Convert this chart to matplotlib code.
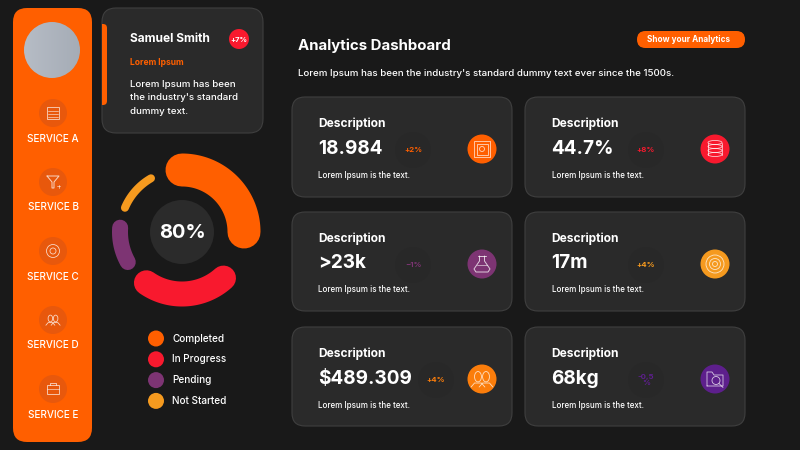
import numpy as np
from matplotlib import pyplot as plt
from matplotlib.colors import LinearSegmentedColormap
from matplotlib.patches import Circle, FancyBboxPatch, Rectangle, Ellipse

plt.rcParams['font.family'] = ['Inter', 'DejaVu Sans']

# colours
BG = "#191919"
CARD = "#2a2a2a"
EDGE = "#3f3f3f"
ORANGE = "#ff5f00"
RED = "#f8192e"
PURPLE = "#7d3473"
AMBER = "#f59a1f"
TANGERINE = "#fb7d0b"
VIOLET = "#5d1f8c"

# donut
ring_labels = ["Completed", "In Progress", "Pending", "Not Started"]
ring_colors = [ORANGE, RED, PURPLE, AMBER]
ring_start = [0, 235, 176, 120]
ring_span = [90, 77, 33, 37]
ring_width = [33, 25, 16, 8]
ring_center_text = "80%"

# sidebar
services = ["SERVICE A", "SERVICE B", "SERVICE C", "SERVICE D", "SERVICE E"]

# cards
card_titles = ["Description"] * 6
card_values = ["18.984", "44.7%", ">23k", "17m", "$489.309", "68kg"]
card_deltas = ["+2%", "+8%", "\u22121%", "+4%", "+4%", "-0,5\n%"]
card_colors = [ORANGE, RED, PURPLE, AMBER, TANGERINE, VIOLET]
card_icons = ["safe", "db", "flask", "target", "people", "folder"]

ICON_ALPHA = 0.75

fig = plt.figure(figsize=(8, 4.5), dpi=100, facecolor=BG)
ax = fig.add_axes([0, 0, 1, 1])


def px(size):
    '''pixel zu punkt'''
    return size * 0.72


def box(x0, y0, x1, y1, r, color, edge="none", lw=0, z=1):
    p = FancyBboxPatch((x0 + r, y0 + r), x1 - x0 - 2 * r, y1 - y0 - 2 * r,
                       boxstyle="round,pad={},rounding_size={}".format(r, r),
                       fc=color, ec=edge, lw=lw, zorder=z)
    ax.add_patch(p)
    return p


def label(x, y, s, size, weight="normal", color="white", ha="left", va="center", z=6, **kw):
    return ax.text(x, y, s, fontsize=px(size), fontweight=weight, color=color,
                   ha=ha, va=va, zorder=z, **kw)


def stroke(xs, ys, color="white", lw=0.8):
    ax.plot(xs, ys, color=color, lw=lw, alpha=ICON_ALPHA, zorder=6, solid_capstyle="round")


def outline(patch):
    patch.set(fill=False, ec="white", lw=0.6, alpha=ICON_ALPHA, zorder=6)
    ax.add_patch(patch)


def draw_icon(kind, x, y):
    '''kleine Linien-Icons'''
    if kind == "calendar":
        outline(Rectangle((x - 6, y - 6), 12, 12))
        for dy in (-2, 1, 4):
            stroke([x - 5, x + 5], [y + dy, y + dy], lw=0.5)
    elif kind == "funnel":
        stroke([x - 6, x + 6, x + 1, x + 1, x - 1, x - 1, x - 6],
               [y - 6, y - 6, y, y + 6, y + 6, y, y - 6], lw=0.7)
        stroke([x + 4, x + 7], [y + 4, y + 4], lw=0.5)
        stroke([x + 5.5, x + 5.5], [y + 2.5, y + 5.5], lw=0.5)
    elif kind == "gear":
        outline(Circle((x, y), 6.5))
        outline(Circle((x, y), 3))
    elif kind == "people" or kind == "people_small":
        k = 1.15 if kind == "people" else 0.75
        for d in (-3.5, 3.5):
            outline(Ellipse((x + d * k, y - 2 * k), 6 * k, 9 * k))
            stroke([x + (d - 6) * k, x + (d - 3) * k, x + (d + 3) * k, x + (d + 6) * k],
                   [y + 7 * k, y + 3.5 * k, y + 3.5 * k, y + 7 * k], lw=0.6)
    elif kind == "case":
        outline(Rectangle((x - 6, y - 4), 12, 9))
        stroke([x - 3, x - 3, x + 3, x + 3], [y - 4, y - 6, y - 6, y - 4], lw=0.6)
        stroke([x - 6, x + 6], [y, y], lw=0.5)
    elif kind == "safe":
        outline(Rectangle((x - 8, y - 8), 16, 16))
        outline(Rectangle((x - 5.5, y - 5.5), 11, 11))
        outline(Circle((x, y), 2.5))
    elif kind == "db":
        for dy in (-6.5, -2.5, 1.5, 5.5):
            outline(Ellipse((x, y + dy), 14, 4))
        stroke([x - 7, x - 7], [y - 6.5, y + 5.5], lw=0.6)
        stroke([x + 7, x + 7], [y - 6.5, y + 5.5], lw=0.6)
    elif kind == "flask":
        stroke([x - 2.5, x - 2.5, x - 8, x - 6, x + 6, x + 8, x + 2.5, x + 2.5],
               [y - 8, y - 3, y + 5, y + 8, y + 8, y + 5, y - 3, y - 8], lw=0.7)
        stroke([x - 4, x + 4], [y - 8.5, y - 8.5], lw=0.7)
        stroke([x - 5, x + 5], [y + 1, y + 1], lw=0.5)
    elif kind == "target":
        for r in (9, 5.5, 2.5):
            outline(Circle((x, y), r))
    elif kind == "folder":
        stroke([x - 8, x - 8, x - 3, x - 1, x + 8, x + 8, x - 8],
               [y + 7, y - 7, y - 7, y - 4, y - 4, y + 7, y + 7], lw=0.6)
        outline(Circle((x + 1, y + 1.5), 4))
        stroke([x + 4, x + 8], [y + 4.5, y + 8.5], lw=0.6)


# linke Leiste
box(13, 8, 92, 442, 14, ORANGE, z=2)
avatar = ax.imshow(np.linspace(0, 1, 64).reshape(1, -1), extent=(24, 81, 78, 22),
                   cmap=LinearSegmentedColormap.from_list("av", ["#b6bcc5", "#a5acb6"]),
                   zorder=3, aspect="auto")
avatar.set_clip_path(Circle((52, 50), 28, transform=ax.transData))

side_icons = ["calendar", "funnel", "gear", "people_small", "case"]
for i, name in enumerate(services):
    y = 113 + i * 69
    ax.add_patch(Circle((53, y), 14, fc="#e8580c", ec="none", zorder=3))
    draw_icon(side_icons[i], 53, y)
    label(53, y + 25.5, name, 10, weight="medium", ha="center")

# Profilkarte
profile = box(102, 8, 263, 133, 14, CARD, edge=EDGE, lw=0.8, z=2)
tab = box(96, 24, 107, 105, 4, ORANGE, z=3)
tab.set_clip_path(profile)
label(130.5, 39.5, "Samuel Smith", 12, weight="bold")
ax.add_patch(Circle((239, 39), 10, fc=RED, ec="none", zorder=4))
label(239, 39.5, "+7%", 7.5, weight="bold", ha="center")
label(130.5, 62.5, "Lorem Ipsum", 8.5, weight="bold", color=ORANGE)
label(130.5, 84.5, "Lorem Ipsum has been", 9.7, weight="medium")
label(130.5, 98, "the industry's standard", 9.7, weight="medium")
label(130.5, 111.5, "dummy text.", 9.7, weight="medium")

# Donut
cx, cy, ring_r = 182, 232, 62
for start, span, width, color in zip(ring_start, ring_span, ring_width, ring_colors):
    ang = np.radians(np.linspace(start, start + span, 90))
    ax.plot(cx + ring_r * np.cos(ang), cy - ring_r * np.sin(ang), color=color,
            lw=px(width), solid_capstyle="round", zorder=3)
ax.add_patch(Circle((cx, cy), 32, fc="#2b2b2b", ec="none", zorder=4))
label(cx, cy + 0.5, ring_center_text, 20, weight="bold", ha="center")

# Legende
for i, (name, color) in enumerate(zip(ring_labels, ring_colors)):
    y = 338.5 + i * 20.8
    ax.add_patch(Circle((156, y), 8, fc=color, ec="none", zorder=3))
    label(172.5, y, name, 10, weight="medium")

# Kopf
label(298, 45.5, "Analytics Dashboard", 15, weight="bold")
label(298, 73.5, "Lorem Ipsum has been the industry's standard dummy text ever since the 1500s.", 9.7, weight="medium")
box(637, 31, 745, 48, 8.5, ORANGE, z=2)
label(688.5, 40, "Show your Analytics", 8.2, weight="bold", ha="center")

# Karten
for i in range(6):
    col, row = i % 2, i // 2
    dx = col * 233
    dy = row * 115
    box(292 + dx, 97 + dy, 512 + dx, 197 + dy - (1 if row else 0), 13, CARD, edge=EDGE, lw=0.8, z=2)
    label(318.5 + dx, 123.5 + dy, card_titles[i], 12, weight="bold")
    label(318.5 + dx, 148.5 + dy, card_values[i], 19, weight="bold")
    label(318.5 + dx, 175 + dy, "Lorem Ipsum is the text.", 8, weight="medium")
    px_delta = 436 if card_values[i].startswith("$") else 413 + dx
    ax.add_patch(Circle((px_delta, 150 + dy), 18, fc="#282828", ec="none", zorder=3))
    label(px_delta, 150 + dy, card_deltas[i], 7.8, weight="bold", color=card_colors[i], ha="center",
          linespacing=1.1)
    ax.add_patch(Circle((482 + dx, 149 + dy), 14.5, fc=card_colors[i], ec="none", zorder=3))
    draw_icon(card_icons[i], 482 + dx, 149 + dy)

ax.set_xlim(0, 800)
ax.set_ylim(450, 0)
ax.axis("off")

fig.savefig("out.png", dpi=100, facecolor=BG)
